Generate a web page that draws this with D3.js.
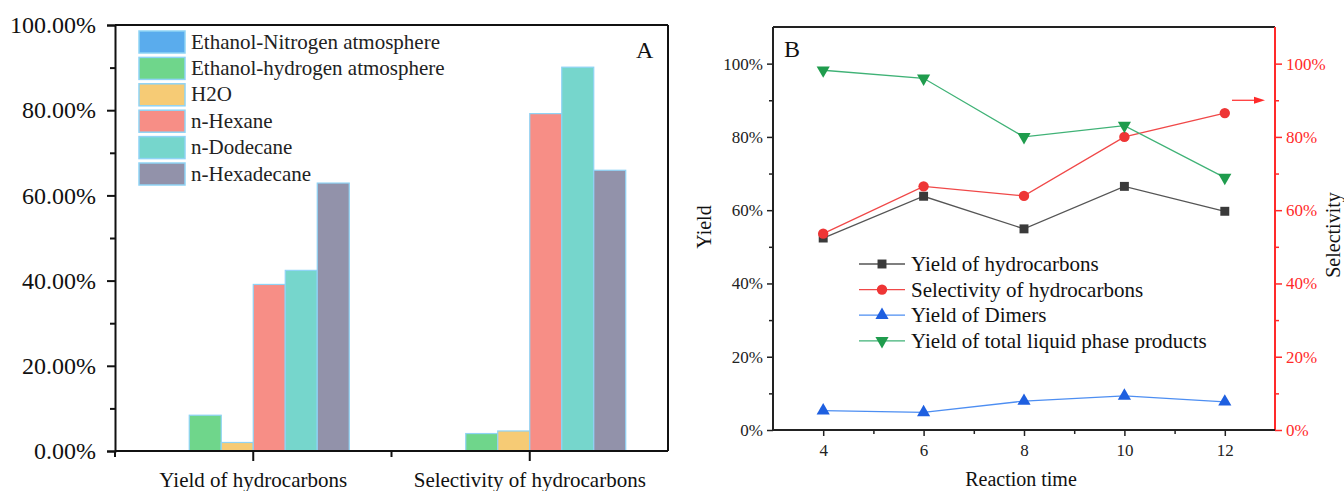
<!DOCTYPE html>
<html><head><meta charset="utf-8">
<script src="https://cdn.jsdelivr.net/npm/d3@7"></script>
<style>body{margin:0;background:#fff}svg{display:block}text{font-family:"Liberation Serif","Times New Roman",serif}</style>
</head><body>
<svg id="c" width="1344" height="491"></svg>
<script>
// ---------- Panel A data ----------
const categoriesA = ["Yield of hydrocarbons", "Selectivity of hydrocarbons"];
const seriesA = ["Ethanol-Nitrogen atmosphere", "Ethanol-hydrogen atmosphere", "H2O", "n-Hexane", "n-Dodecane", "n-Hexadecane"];
const colorsA = ["#5aaced", "#6fd68b", "#f6cb75", "#f78e86", "#76d6cc", "#9292aa"];
const yieldValuesA = [0.0, 0.084, 0.020, 0.391, 0.424, 0.629];
const selectivityValuesA = [0.0, 0.041, 0.047, 0.792, 0.901, 0.659];
const yTicksA = [0, 0.2, 0.4, 0.6, 0.8, 1.0];

// ---------- Panel B data ----------
const reactionTime = [4, 6, 8, 10, 12];
const yieldHydrocarbons = [0.524, 0.638, 0.549, 0.665, 0.597];
const selectivityHydrocarbons = [0.536, 0.665, 0.639, 0.800, 0.865];
const yieldDimers = [0.053, 0.048, 0.079, 0.093, 0.077];
const yieldTotalLiquid = [0.982, 0.960, 0.800, 0.831, 0.689];
const yTicksB = [0, 0.2, 0.4, 0.6, 0.8, 1.0];
const xTicksB = [4, 6, 8, 10, 12];

const svg = d3.select("#c");

// ================= Panel A =================
{
  const L = 115, R = 668, T = 25, B = 451;
  const x0 = d3.scaleBand().domain(categoriesA).range([L, R]).paddingInner(0).paddingOuter(0);
  const half = 96;
  const x1 = d3.scaleBand().domain(seriesA).range([x0.bandwidth() / 2 - half, x0.bandwidth() / 2 + half]).padding(0);
  const y = d3.scaleLinear().domain([0, 1]).range([B, T]);
  const g = svg.append("g");
  const rows = categoriesA.map((c, i) => ({cat: c, vals: i === 0 ? yieldValuesA : selectivityValuesA}));
  rows.forEach(r => {
    g.selectAll(null).data(r.vals.map((v, j) => ({v, s: seriesA[j], c: colorsA[j]})).filter(d => d.v > 0))
      .enter().append("rect")
      .attr("x", d => x0(r.cat) + x1(d.s))
      .attr("width", x1.bandwidth())
      .attr("y", d => y(d.v))
      .attr("height", d => y(0) - y(d.v))
      .attr("fill", d => d.c)
      .attr("stroke", "#8fd3f5").attr("stroke-width", 1.2);
  });
  // frame
  g.append("line").attr("x1", L).attr("x2", R).attr("y1", T).attr("y2", T).attr("stroke", "#111").attr("stroke-width", 2);
  g.append("line").attr("x1", R).attr("x2", R).attr("y1", T).attr("y2", B).attr("stroke", "#111").attr("stroke-width", 2);
  // y axis
  const ya = d3.axisLeft(y).tickValues(yTicksA).tickFormat(d => (d * 100).toFixed(2) + "%").tickSize(8).tickPadding(11);
  const yg = g.append("g").attr("transform", `translate(${L},0)`).call(ya);
  yg.select(".domain").attr("stroke", "#111").attr("stroke-width", 2);
  yg.selectAll(".tick line").attr("stroke", "#111").attr("stroke-width", 2);
  yg.selectAll(".tick text").attr("font-size", 24).attr("fill", "#111");
  const ym = d3.axisLeft(y).tickValues(d3.range(0.1, 1, 0.2)).tickFormat("").tickSize(5);
  const ymg = g.append("g").attr("transform", `translate(${L},0)`).call(ym);
  ymg.select(".domain").remove();
  ymg.selectAll(".tick line").attr("stroke", "#111").attr("stroke-width", 2);
  // x axis
  const xa = d3.axisBottom(x0).tickSize(10).tickPadding(11);
  const xg = g.append("g").attr("transform", `translate(0,${B})`).call(xa);
  xg.select(".domain").attr("stroke", "#111").attr("stroke-width", 2).attr("d", `M${L},0H${R}`);
  xg.selectAll(".tick line").attr("stroke", "#111").attr("stroke-width", 2);
  xg.selectAll(".tick text").attr("font-size", 21).attr("fill", "#111");
  [L, (L + R) / 2].forEach(px => g.append("line").attr("x1", px).attr("x2", px).attr("y1", B).attr("y2", B + 6).attr("stroke", "#111").attr("stroke-width", 2));
  // legend
  const lg = g.append("g");
  seriesA.forEach((s, i) => {
    const yy = 31 + i * 26.4;
    lg.append("rect").attr("x", 139).attr("y", yy).attr("width", 46).attr("height", 22).attr("fill", colorsA[i]).attr("stroke", "#8fd3f5").attr("stroke-width", 1.5);
    lg.append("text").attr("x", 191).attr("y", yy + 17.5).attr("font-size", 21).attr("fill", "#222").text(s);
  });
  g.append("text").attr("x", 636).attr("y", 58).attr("font-size", 24).attr("fill", "#111").text("A");
}

// ================= Panel B =================
{
  const L = 773, R = 1275, T = 27, B = 430;
  const x = d3.scaleLinear().domain([3, 13]).range([L, R]);
  const y = d3.scaleLinear().domain([0, 1.1]).range([B, T]);
  const g = svg.append("g");
  g.append("line").attr("x1", L).attr("x2", R).attr("y1", T).attr("y2", T).attr("stroke", "#222").attr("stroke-width", 2);
  // left axis
  const ya = d3.axisLeft(y).tickValues(yTicksB).tickFormat(d => Math.round(d * 100) + "%").tickSize(6).tickPadding(4);
  const yg = g.append("g").attr("transform", `translate(${L},0)`).call(ya);
  yg.select(".domain").attr("stroke", "#222").attr("stroke-width", 2).attr("d", `M0,${B}V${T}`);
  yg.selectAll(".tick line").attr("stroke", "#222").attr("stroke-width", 1.5);
  yg.selectAll(".tick text").attr("font-size", 17).attr("fill", "#222");
  const ym = d3.axisLeft(y).tickValues(d3.range(0.1, 1.1, 0.2)).tickFormat("").tickSize(4);
  const ymg = g.append("g").attr("transform", `translate(${L},0)`).call(ym);
  ymg.select(".domain").remove();
  ymg.selectAll(".tick line").attr("stroke", "#222").attr("stroke-width", 1.5);
  // right axis (red)
  const red = "#ff2a2a";
  const yr = d3.axisRight(y).tickValues(yTicksB).tickFormat(d => Math.round(d * 100) + "%").tickSize(7).tickPadding(4);
  const yrg = g.append("g").attr("transform", `translate(${R},0)`).call(yr);
  yrg.select(".domain").attr("stroke", red).attr("stroke-width", 2).attr("d", `M0,${B}V${T}`);
  yrg.selectAll(".tick line").attr("stroke", red).attr("stroke-width", 1.5);
  yrg.selectAll(".tick text").attr("font-size", 17).attr("fill", red);
  const yrm = d3.axisRight(y).tickValues(d3.range(0.1, 1.1, 0.2)).tickFormat("").tickSize(4);
  const yrmg = g.append("g").attr("transform", `translate(${R},0)`).call(yrm);
  yrmg.select(".domain").remove();
  yrmg.selectAll(".tick line").attr("stroke", red).attr("stroke-width", 1.5);
  // bottom axis
  const xa = d3.axisBottom(x).tickValues(xTicksB).tickSize(6).tickPadding(8);
  const xg = g.append("g").attr("transform", `translate(0,${B})`).call(xa);
  xg.select(".domain").attr("stroke", "#222").attr("stroke-width", 2).attr("d", `M${L},0H${R}`);
  xg.selectAll(".tick line").attr("stroke", "#222").attr("stroke-width", 1.5);
  xg.selectAll(".tick text").attr("font-size", 17).attr("fill", "#222");
  const xm = d3.axisBottom(x).tickValues([5, 7, 9, 11]).tickFormat("").tickSize(4);
  const xmg = g.append("g").attr("transform", `translate(0,${B})`).call(xm);
  xmg.select(".domain").remove();
  xmg.selectAll(".tick line").attr("stroke", "#222").attr("stroke-width", 1.5);

  // titles
  g.append("text").attr("x", 1021).attr("y", 486).attr("text-anchor", "middle").attr("font-size", 20).attr("fill", "#111").text("Reaction time");
  g.append("text").attr("transform", "translate(711,227) rotate(-90)").attr("text-anchor", "middle").attr("font-size", 20).attr("fill", "#111").text("Yield");
  g.append("text").attr("transform", "translate(1340,235) rotate(-90)").attr("text-anchor", "middle").attr("font-size", 20).attr("fill", "#111").text("Selectivity");
  g.append("text").attr("x", 784).attr("y", 57).attr("font-size", 24).attr("fill", "#111").text("B");

  const series = [
    {name: "Yield of hydrocarbons", vals: yieldHydrocarbons, line: "#555", fill: "#3a3a3a", sym: d3.symbolSquare, size: 80, rot: 0},
    {name: "Selectivity of hydrocarbons", vals: selectivityHydrocarbons, line: "#f04848", fill: "#ee3535", sym: d3.symbolCircle, size: 85, rot: 0},
    {name: "Yield of Dimers", vals: yieldDimers, line: "#4d8ef2", fill: "#1e5fe0", sym: d3.symbolTriangle, size: 75, rot: 0},
    {name: "Yield of total liquid phase products", vals: yieldTotalLiquid, line: "#3fb276", fill: "#1f9c4d", sym: d3.symbolTriangle, size: 75, rot: 180}
  ];
  const line = d3.line().x(d => x(d.t)).y(d => y(d.v));
  series.forEach(s => {
    const pts = reactionTime.map((t, i) => ({t, v: s.vals[i]}));
    g.append("path").attr("d", line(pts)).attr("fill", "none").attr("stroke", s.line).attr("stroke-width", 1.3);
    g.selectAll(null).data(pts).enter().append("path")
      .attr("d", d3.symbol().type(s.sym).size(s.size))
      .attr("transform", d => `translate(${x(d.t)},${y(d.v)}) rotate(${s.rot})`)
      .attr("fill", s.fill);
  });
  // arrow toward right axis
  const ay = y(0.9);
  g.append("line").attr("x1", 1232).attr("x2", 1256).attr("y1", ay).attr("y2", ay).attr("stroke", red).attr("stroke-width", 1.2);
  g.append("path").attr("d", `M1254,${ay - 3.5}L1265,${ay}L1254,${ay + 3.5}Z`).attr("fill", red);

  // legend
  series.forEach((s, i) => {
    const yy = 264 + i * 25.6;
    g.append("line").attr("x1", 859).attr("x2", 905).attr("y1", yy).attr("y2", yy).attr("stroke", s.line).attr("stroke-width", 1.3);
    g.append("path").attr("d", d3.symbol().type(s.sym).size(s.size)).attr("transform", `translate(882,${yy}) rotate(${s.rot})`).attr("fill", s.fill);
    g.append("text").attr("x", 911).attr("y", yy + 7).attr("font-size", 21).attr("fill", "#111").text(s.name);
  });
}
</script>
</body></html>
